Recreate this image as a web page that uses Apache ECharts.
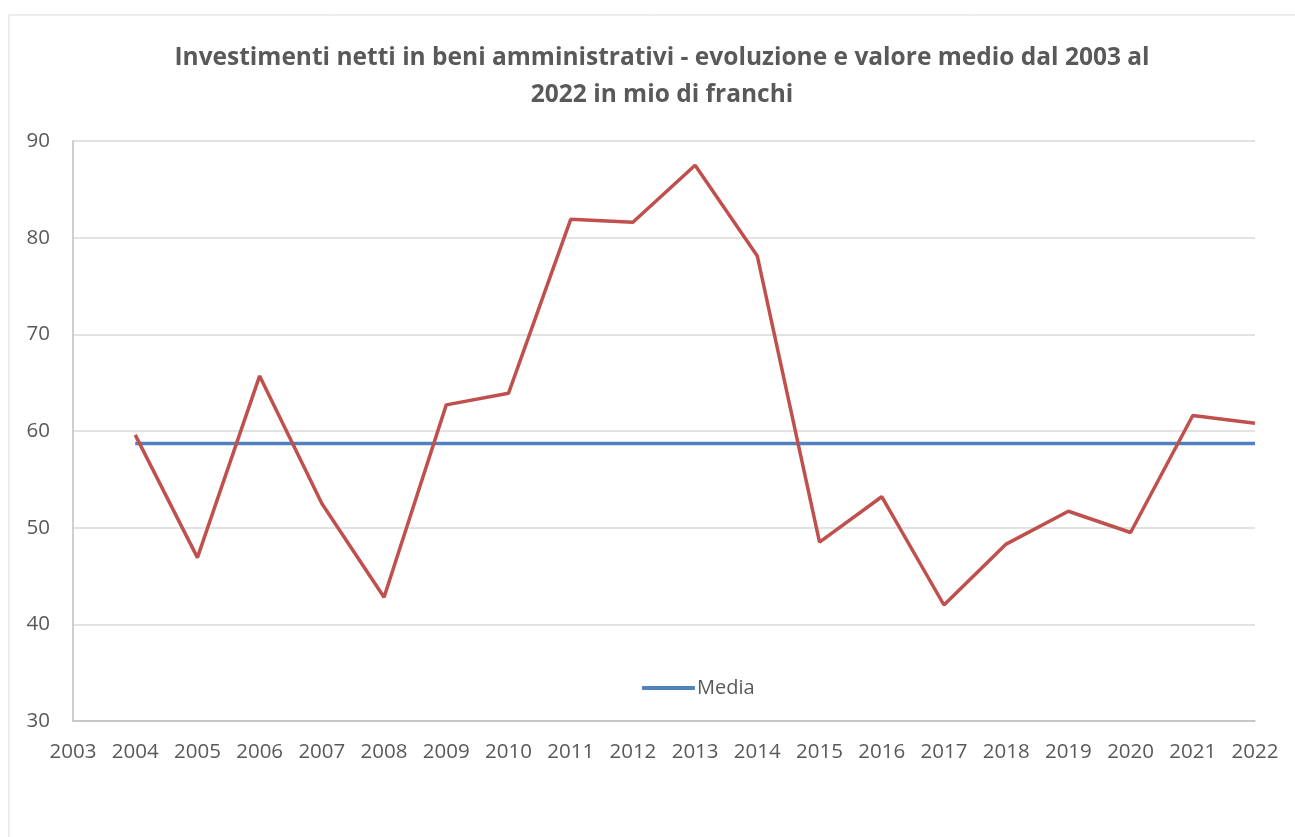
<!DOCTYPE html>
<html>
<head>
<meta charset="utf-8">
<script src="https://cdn.jsdelivr.net/npm/echarts@6/dist/echarts.min.js"></script>
<style>
  html, body { margin: 0; padding: 0; background: #fff; }
  #chart { width: 1295px; height: 837px; }
</style>
</head>
<body>
<div id="chart"></div>
<script>
const years = ['2003', '2004', '2005', '2006', '2007', '2008', '2009', '2010', '2011', '2012',
  '2013', '2014', '2015', '2016', '2017', '2018', '2019', '2020', '2021', '2022'];
// net investments, mio CHF (no value for 2003)
const investimenti = [null, 59.6, 46.9, 65.7, 52.5, 42.8, 62.7, 63.9, 81.9, 81.6,
  87.5, 78.1, 48.5, 53.2, 42.0, 48.3, 51.7, 49.5, 61.6, 60.8];
const media = [null, 58.7, 58.7, 58.7, 58.7, 58.7, 58.7, 58.7, 58.7, 58.7,
  58.7, 58.7, 58.7, 58.7, 58.7, 58.7, 58.7, 58.7, 58.7, 58.7];
const yTicks = { min: 30, max: 90, interval: 10 };

const textColor = '#595959';
const chart = echarts.init(document.getElementById('chart'));

chart.setOption({
  backgroundColor: '#fff',
  animation: false,
  textStyle: { fontFamily: 'Open Sans, sans-serif' },
  graphic: [
    {
      type: 'rect',
      shape: { x: 9, y: 15, width: 1300, height: 840 },
      style: { fill: 'none', stroke: '#d9d9d9', lineWidth: 1 },
      silent: true,
    },
  ],
  title: {
    text: 'Investimenti netti in beni amministrativi - evoluzione e valore medio dal 2003 al\n2022 in mio di franchi',
    left: 657,
    top: 35,
    textAlign: 'center',
    textStyle: { color: textColor, fontSize: 24.5, fontWeight: 'bold', lineHeight: 37 },
  },
  legend: {
    left: 637,
    top: 673,
    itemWidth: 53,
    itemHeight: 4,
    itemGap: 5,
    data: [{ name: 'Media', icon: 'roundRect' }],
    textStyle: { color: textColor, fontSize: 20, padding: [0, 0, 0, -3] },
  },
  grid: { left: 73, right: 40, top: 141, bottom: 116 },
  xAxis: {
    type: 'category',
    data: years,
    boundaryGap: false,
    axisLine: { lineStyle: { color: '#bfbfbf', width: 1.5 } },
    axisTick: { show: false },
    axisLabel: { color: textColor, fontSize: 20.5, margin: 21, interval: 0 },
  },
  yAxis: {
    type: 'value',
    min: yTicks.min,
    max: yTicks.max,
    interval: yTicks.interval,
    axisLine: { show: true, lineStyle: { color: '#bfbfbf', width: 1.5 } },
    axisTick: { show: false },
    axisLabel: { color: textColor, fontSize: 20.5, margin: 23 },
    splitLine: { lineStyle: { color: '#d9d9d9', width: 1.5 } },
  },
  series: [
    {
      name: 'Investimenti',
      type: 'line',
      data: investimenti,
      symbol: 'none',
      lineStyle: { color: '#c0504d', width: 3.5 },
      itemStyle: { color: '#c0504d' },
      z: 3,
    },
    {
      name: 'Media',
      type: 'line',
      data: media,
      symbol: 'none',
      lineStyle: { color: '#4f81bd', width: 3.5 },
      itemStyle: { color: '#4f81bd' },
      z: 2,
    },
  ],
});
</script>
</body>
</html>
